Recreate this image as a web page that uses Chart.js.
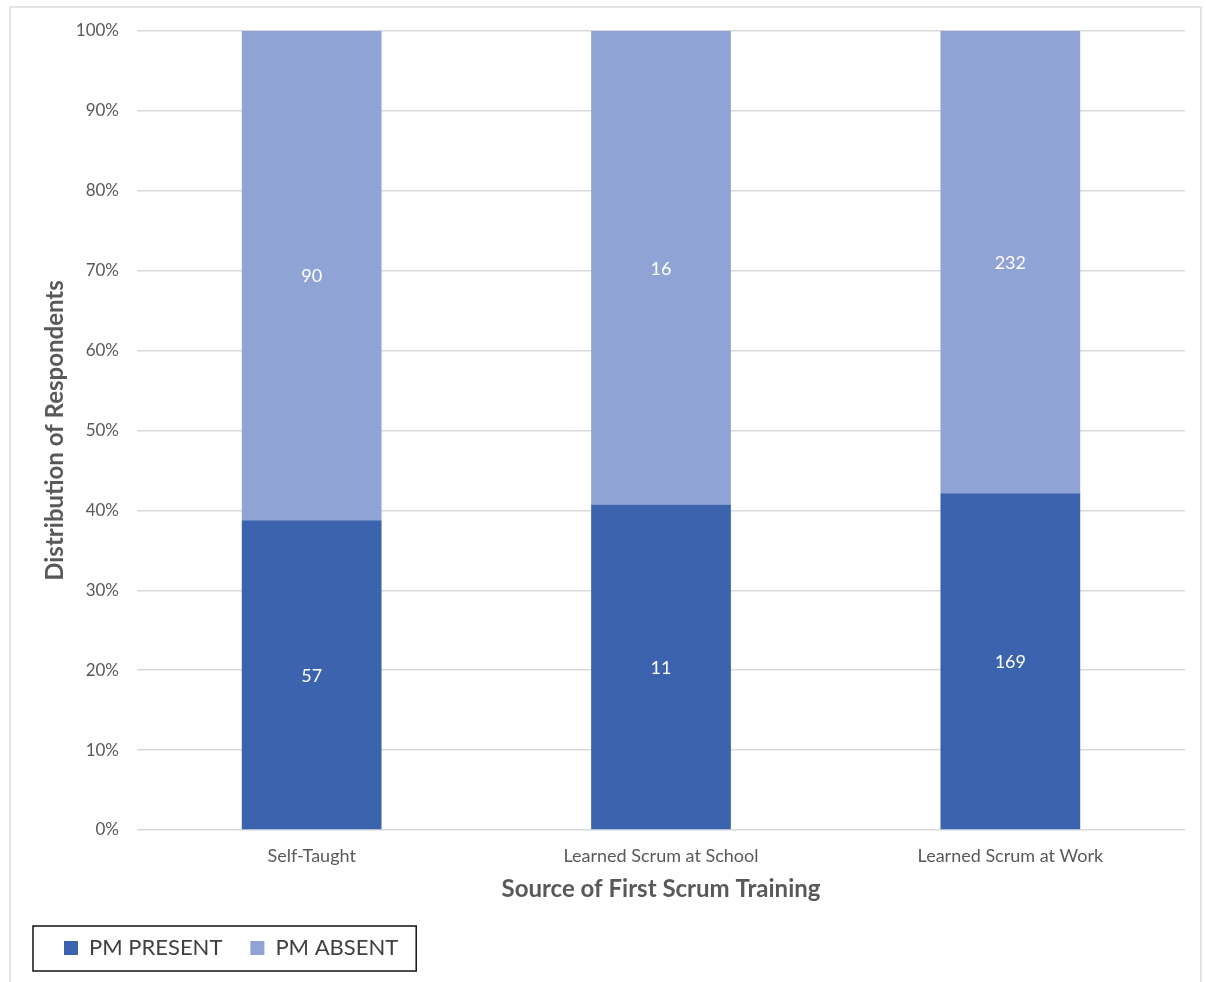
<!DOCTYPE html>
<html>
<head>
<meta charset="utf-8">
<script src="https://cdn.jsdelivr.net/npm/chart.js@4.4.1/dist/chart.umd.min.js"></script>
<style>
  html, body { margin: 0; padding: 0; background: #ffffff; }
  body { width: 1206px; height: 982px; position: relative; overflow: hidden; }
  #frame {
    position: absolute; left: 9px; top: 6px; width: 1193px; height: 990px;
    border: 2px solid #e4e4e4; box-sizing: border-box;
  }
  #wrap { position: absolute; left: 0; top: 0; width: 1206px; height: 982px; }
</style>
</head>
<body>
<div id="frame"></div>
<div id="wrap"><canvas id="chart" width="1206" height="982"></canvas></div>
<script>
// Source of first Scrum training, respondent counts per group
const categories = ['Self-Taught', 'Learned Scrum at School', 'Learned Scrum at Work'];
const pmPresent = [57, 11, 169];
const pmAbsent = [90, 16, 232];
const seriesNames = ['PM PRESENT', 'PM ABSENT'];
const yTicks = [0, 10, 20, 30, 40, 50, 60, 70, 80, 90, 100];

const totals = categories.map((_, i) => pmPresent[i] + pmAbsent[i]);
const share = (arr) => arr.map((v, i) => v / totals[i] * 100);

const FONT = 'Lato, "Open Sans", sans-serif';
const GREY = '#595959';

// Count labels centred in each stacked segment
const segmentLabels = {
  id: 'segmentLabels',
  afterDatasetsDraw(chart) {
    const ctx = chart.ctx;
    ctx.save();
    ctx.font = '18px ' + FONT;
    ctx.fillStyle = '#ffffff';
    ctx.textAlign = 'center';
    ctx.textBaseline = 'middle';
    chart.data.datasets.forEach((ds, di) => {
      const meta = chart.getDatasetMeta(di);
      meta.data.forEach((el, i) => {
        const p = el.getProps(['x', 'y', 'base'], true);
        ctx.fillText(String(ds.counts[i]), p.x, (p.y + p.base) / 2 + 1);
      });
    });
    ctx.restore();
  }
};

// Thin black box around the legend row
const legendFrame = {
  id: 'legendFrame',
  afterDraw(chart) {
    const lg = chart.legend;
    if (!lg || !lg.legendHitBoxes || !lg.legendHitBoxes.length) return;
    const hb = lg.legendHitBoxes;
    const first = hb[0], last = hb[hb.length - 1];
    const cy = first.top + first.height / 2;
    const ctx = chart.ctx;
    ctx.save();
    ctx.strokeStyle = '#111111';
    ctx.lineWidth = 1.5;
    ctx.strokeRect(first.left - 31, cy - 22, (last.left + last.width + 18) - (first.left - 31), 45);
    ctx.restore();
  }
};

new Chart(document.getElementById('chart'), {
  type: 'bar',
  data: {
    labels: categories,
    datasets: [
      { label: seriesNames[0], data: share(pmPresent), counts: pmPresent,
        backgroundColor: '#3c63ad', borderWidth: 0 },
      { label: seriesNames[1], data: share(pmAbsent), counts: pmAbsent,
        backgroundColor: '#8fa3d4', borderWidth: 0 }
    ]
  },
  options: {
    responsive: false,
    animation: false,
    datasets: { bar: { categoryPercentage: 1.0, barPercentage: 0.4 } },
    layout: { padding: { left: 36, right: 21, top: 31, bottom: 13 } },
    plugins: {
      tooltip: { enabled: false },
      legend: {
        position: 'bottom',
        align: 'start',
        labels: {
          boxWidth: 14, boxHeight: 14, padding: 28,
          color: '#404040',
          font: { family: FONT, size: 22 }
        }
      }
    },
    scales: {
      x: {
        stacked: true,
        grid: { display: false, drawTicks: false },
        border: { display: false },
        ticks: { color: GREY, font: { family: FONT, size: 18 }, padding: 15, maxRotation: 0 },
        title: {
          display: true, text: 'Source of First Scrum Training', color: GREY,
          font: { family: FONT, size: 24, weight: 'bold' }, padding: { top: 5, bottom: 5 }
        },
        afterFit(scale) { scale.height = 79; }
      },
      y: {
        stacked: true,
        min: 0, max: 100,
        grid: { color: '#d9d9d9', lineWidth: 1.5, drawTicks: false },
        border: { display: false },
        afterBuildTicks(scale) { scale.ticks = yTicks.map(v => ({ value: v })); },
        ticks: {
          color: GREY, font: { family: FONT, size: 17 }, padding: 18,
          callback: (v) => v + '%'
        },
        title: {
          display: true, text: 'Distribution of Respondents', color: GREY,
          font: { family: FONT, size: 24, weight: 'bold' }, padding: { top: 5, bottom: 5 }
        },
        afterFit(scale) { scale.width = 101; }
      }
    }
  },
  plugins: [segmentLabels, legendFrame]
});
</script>
</body>
</html>
